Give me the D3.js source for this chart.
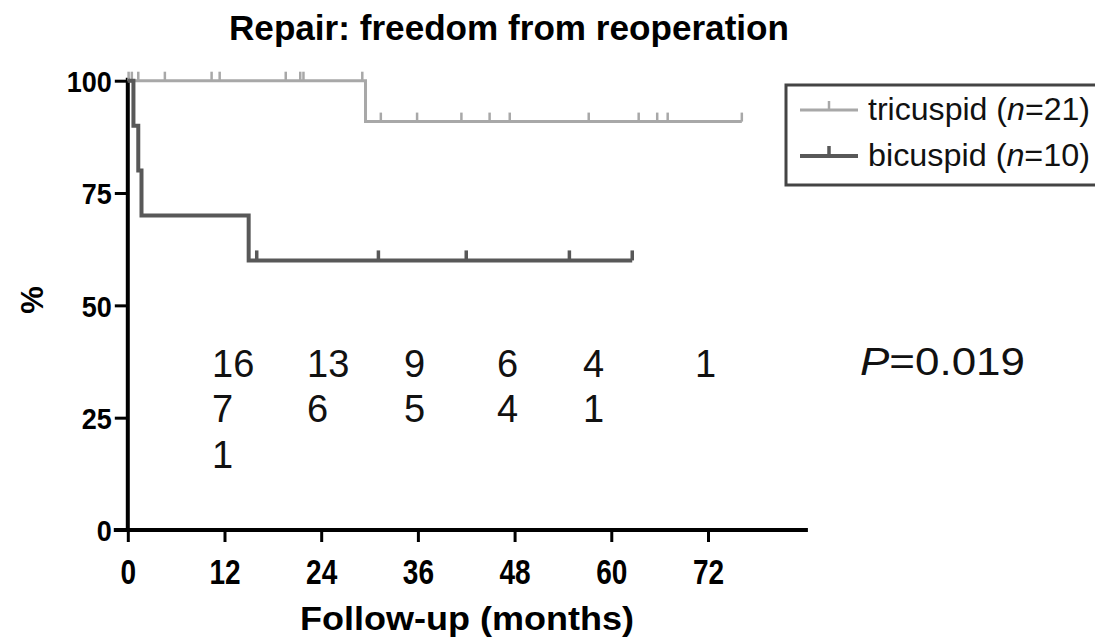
<!DOCTYPE html>
<html>
<head>
<meta charset="utf-8">
<script src="https://cdn.jsdelivr.net/npm/d3@7"></script>
<style>
  html, body { margin: 0; padding: 0; background: #fff; }
  svg { display: block; font-family: "Liberation Sans", Arial, sans-serif; }
</style>
</head>
<body>
<svg id="chart" width="1095" height="637"></svg>
<script>
// Kaplan-Meier: freedom from reoperation after repair
const monthTicks = [0, 12, 24, 36, 48, 60, 72];
const percentTicks = [0, 25, 50, 75, 100];

// step curves: time of each step (months) and survival (%) after it
const tricuspidTimes = [0, 29.5];
const tricuspidSurvival = [100, 90.9];
const tricuspidEnd = 76.2;
const tricuspidCensored = [0.1, 0.5, 1.3, 4.6, 10.4, 11.4, 19.6, 21.4, 21.8, 29.1,
                           31.4, 35.9, 41.4, 44.9, 47.4, 57.2, 63.4, 65.7, 67.0, 76.2];

const bicuspidTimes = [0, 0.7, 1.3, 1.7, 15.0];
const bicuspidSurvival = [100, 90, 80, 70, 60];
const bicuspidEnd = 62.6;
const bicuspidCensored = [16.0, 31.1, 42.0, 54.8, 62.6];

// numbers at risk
const atRiskRows = [
  [16, 13, 9, 6, 4, 1],
  [7, 6, 5, 4, 1],
  [1]
];

const titleText = "Repair: freedom from reoperation";
const xTitle = "Follow-up (months)";
const yTitle = "%";
const pValue = "0.019";

const svg = d3.select("#chart");

const x = d3.scaleLinear().domain([0, 84.4]).range([127.8, 807.9]);
const y = d3.scaleLinear().domain([0, 100]).range([530, 80.7]);

// title
svg.append("text")
  .attr("x", 509).attr("y", 40)
  .attr("text-anchor", "middle")
  .attr("font-size", 35).attr("font-weight", "bold")
  .attr("textLength", 560).attr("lengthAdjust", "spacingAndGlyphs")
  .text(titleText);

// axes
const xAxis = svg.append("g")
  .attr("transform", `translate(0,${y(0)})`)
  .call(d3.axisBottom(x).tickValues(monthTicks).tickSize(12).tickSizeOuter(0).tickPadding(8));
const yAxis = svg.append("g")
  .attr("transform", `translate(${x(0)},0)`)
  .call(d3.axisLeft(y).tickValues(percentTicks).tickSize(13).tickSizeOuter(0).tickPadding(3));

[xAxis, yAxis].forEach(g => {
  g.select(".domain").attr("stroke", "#000").attr("stroke-width", 4);
  g.selectAll(".tick line").attr("stroke", "#000").attr("stroke-width", 3);
  g.selectAll(".tick text")
    .attr("fill", "#000")
    .attr("font-family", "'Liberation Sans', Arial, sans-serif")
    .attr("font-weight", "bold");
});
// tall, narrow tick labels
xAxis.selectAll(".tick text")
  .attr("font-size", 35)
  .attr("dy", "0.97em")
  .attr("transform", "scale(0.8,1)");
yAxis.selectAll(".tick text")
  .attr("font-size", 30)
  .attr("dy", "0.36em")
  .attr("transform", "translate(-16,0) scale(0.9,1) translate(16,0)");

// extend x axis line left to meet the y-axis zero tick
xAxis.select(".domain").attr("d", `M${x(0) - 14},0H${x(84.4)}`);
yAxis.select(".domain").attr("d", `M0,${y(100) - 3}V${y(0)}`);

// axis titles
svg.append("text")
  .attr("x", 467).attr("y", 630)
  .attr("text-anchor", "middle")
  .attr("font-size", 34).attr("font-weight", "bold")
  .attr("textLength", 334).attr("lengthAdjust", "spacingAndGlyphs")
  .text(xTitle);
svg.append("text")
  .attr("transform", "translate(43,300) rotate(-90)")
  .attr("text-anchor", "middle")
  .attr("font-size", 31).attr("font-weight", "bold")
  .text(yTitle);

// survival curves
function survivalAt(times, surv, t) {
  let v = surv[0];
  for (let i = 0; i < times.length; i++) if (times[i] <= t) v = surv[i];
  return v;
}
const stepLine = d3.line().curve(d3.curveStepAfter).x(d => x(d[0])).y(d => y(d[1]));

const series = [
  { times: tricuspidTimes, surv: tricuspidSurvival, end: tricuspidEnd, censored: tricuspidCensored,
    color: "#a8a8a8", width: 3, mark: 9 },
  { times: bicuspidTimes, surv: bicuspidSurvival, end: bicuspidEnd, censored: bicuspidCensored,
    color: "#585858", width: 4, mark: 10 }
];

series.forEach(s => {
  const pts = s.times.map((t, i) => [t, s.surv[i]]);
  pts.push([s.end, s.surv[s.surv.length - 1]]);
  svg.append("path")
    .attr("d", stepLine(pts))
    .attr("fill", "none")
    .attr("stroke", s.color)
    .attr("stroke-width", s.width);
  svg.append("g").selectAll("line")
    .data(s.censored)
    .join("line")
    .attr("x1", d => x(d)).attr("x2", d => x(d))
    .attr("y1", d => y(survivalAt(s.times, s.surv, d)))
    .attr("y2", d => y(survivalAt(s.times, s.surv, d)) - s.mark)
    .attr("stroke", s.color)
    .attr("stroke-width", s.width - 0.5);
});

// numbers at risk
const colX = [212, 307, 404, 497, 583, 695];
const rowY = [377, 422, 468];
atRiskRows.forEach((row, r) => {
  svg.append("g").selectAll("text")
    .data(row)
    .join("text")
    .attr("x", (d, i) => colX[i])
    .attr("y", rowY[r])
    .attr("font-size", 38)
    .attr("fill", "#111")
    .text(d => d);
});

// log-rank p value
const pText = svg.append("text")
  .attr("x", 860).attr("y", 375)
  .attr("font-size", 38)
  .attr("fill", "#111")
  .attr("textLength", 165).attr("lengthAdjust", "spacingAndGlyphs");
pText.append("tspan").attr("font-style", "italic").text("P");
pText.append("tspan").text("=" + pValue);

// legend
const legend = svg.append("g");
legend.append("rect")
  .attr("x", 786).attr("y", 85)
  .attr("width", 340).attr("height", 100)
  .attr("fill", "#fff")
  .attr("stroke", "#444").attr("stroke-width", 3);

const legendItems = [
  { name: "tricuspid", n: 21, s: series[0], y: 110 },
  { name: "bicuspid", n: 10, s: series[1], y: 156 }
];
legendItems.forEach(item => {
  legend.append("line")
    .attr("x1", 800).attr("x2", 858)
    .attr("y1", item.y).attr("y2", item.y)
    .attr("stroke", item.s.color).attr("stroke-width", item.s.width);
  legend.append("line")
    .attr("x1", 829).attr("x2", 829)
    .attr("y1", item.y).attr("y2", item.y - item.s.mark)
    .attr("stroke", item.s.color).attr("stroke-width", item.s.width - 0.5);
  const t = legend.append("text")
    .attr("x", 868).attr("y", item.y + 10)
    .attr("font-size", 32)
    .attr("fill", "#111")
    .attr("textLength", 222).attr("lengthAdjust", "spacingAndGlyphs");
  t.append("tspan").text(item.name + " (");
  t.append("tspan").attr("font-style", "italic").text("n");
  t.append("tspan").text("=" + item.n + ")");
});
</script>
</body>
</html>
